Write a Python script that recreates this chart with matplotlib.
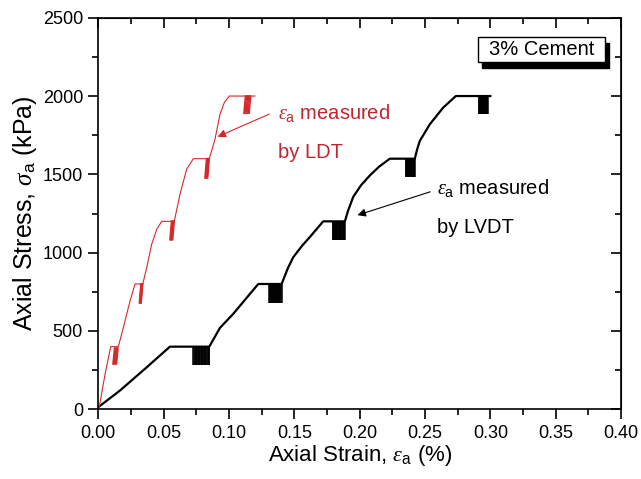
import numpy as np
import matplotlib
matplotlib.use("Agg")
import matplotlib.pyplot as plt
from matplotlib.ticker import MultipleLocator
from matplotlib.patches import Rectangle

plt.rcParams['font.family'] = ['Liberation Sans', 'DejaVu Sans']
plt.rcParams['mathtext.fontset'] = 'custom'
plt.rcParams['mathtext.rm'] = 'Liberation Sans'
plt.rcParams['mathtext.it'] = 'Liberation Serif:italic'

# LDT curve (strain %, stress kPa)
ldt_strain = [0.0, 0.0008, 0.0051, 0.0095, 0.0153, 0.0191, 0.0242, 0.0281,
              0.0340, 0.0370, 0.0408, 0.0447, 0.0485, 0.0581, 0.0625, 0.0676,
              0.0727, 0.0849, 0.0893, 0.0931, 0.0965, 0.1002, 0.1198]
ldt_stress = [10, 19, 222, 400, 400, 520, 690, 800,
              800, 903, 1053, 1149, 1200, 1200, 1373, 1533,
              1600, 1600, 1724, 1884, 1960, 2000, 2000]

# LVDT curve
lvdt_strain = [0.0, 0.0008, 0.0166, 0.0370, 0.0548, 0.0849, 0.0931, 0.1033,
               0.1224, 0.1403, 0.1450, 0.1491, 0.1560, 0.1619, 0.1721,
               0.1887, 0.1910, 0.1950, 0.2010, 0.2078, 0.2150, 0.2231,
               0.2422, 0.2440, 0.2460, 0.2537, 0.2639, 0.2736, 0.3000]
lvdt_stress = [15, 19, 120, 268, 400, 400, 520, 610,
               800, 800, 900, 970, 1045, 1100, 1200,
               1200, 1265, 1355, 1430, 1493, 1550, 1600,
               1600, 1660, 1713, 1820, 1926, 2000, 2000]

# unload-reload cycles: (strain start, strain end, stress low, stress high)
ldt_cycles = [(0.0112, 0.0151, 290, 390), (0.0314, 0.0340, 680, 800),
              (0.0548, 0.0581, 1083, 1200), (0.0816, 0.0849, 1478, 1600),
              (0.1114, 0.1166, 1890, 2000)]
lvdt_cycles = [(0.0727, 0.0849, 280, 400), (0.1306, 0.1403, 680, 800),
               (0.1795, 0.1887, 1078, 1200), (0.2353, 0.2422, 1480, 1600),
               (0.2912, 0.2980, 1886, 2000)]

red = '#d42a2a'
red_txt = '#c0262d'

fig = plt.figure(figsize=(6.41, 4.79), dpi=100)
ax = fig.add_axes([0.1534, 0.1455, 0.8154, 0.8175])

ax.plot(lvdt_strain, lvdt_stress, '-', color='black', lw=1.6)
for x0, x1, lo, hi in lvdt_cycles:
    ax.vlines(np.linspace(x0, x1, 22), lo, hi, color='black', lw=1.1)

ax.plot(ldt_strain, ldt_stress, '-', color=red, lw=0.8)
for x0, x1, lo, hi in ldt_cycles:
    for x in np.linspace(x0, x1 - 0.0012, 6):
        ax.plot([x + 0.0012, x], [hi, lo], '-', color=red, lw=1.1)

ax.set_xlim(0, 0.40)
ax.set_ylim(0, 2500)
ax.xaxis.set_major_locator(MultipleLocator(0.05))
ax.xaxis.set_minor_locator(MultipleLocator(0.025))
ax.yaxis.set_major_locator(MultipleLocator(500))
ax.yaxis.set_minor_locator(MultipleLocator(250))
ax.xaxis.set_major_formatter(matplotlib.ticker.FormatStrFormatter('%.2f'))
ax.tick_params(which='both', direction='out', top=False, right=False,
               labelsize=13, width=1.2)
ax.tick_params(which='major', length=7, pad=4)
ax.tick_params(which='minor', length=4.5)
# inward ticks on the top and right spines
ax2 = ax.secondary_xaxis('top')
ax2.xaxis.set_major_locator(MultipleLocator(0.05))
ax2.xaxis.set_minor_locator(MultipleLocator(0.025))
ax2.tick_params(which='both', direction='in', labeltop=False, width=1.2)
ax2.tick_params(which='major', length=7)
ax2.tick_params(which='minor', length=4.5)
ay2 = ax.secondary_yaxis('right')
ay2.yaxis.set_major_locator(MultipleLocator(500))
ay2.yaxis.set_minor_locator(MultipleLocator(250))
ay2.tick_params(which='both', direction='in', labelright=False, width=1.2)
ay2.tick_params(which='major', length=7)
ay2.tick_params(which='minor', length=4.5)
for s in ax.spines.values():
    s.set_linewidth(1.2)

ax.set_xlabel(r'Axial Strain, $\varepsilon_{\rm a}$ (%)', fontsize=16, labelpad=1)
ax.set_ylabel(r'Axial Stress, $\sigma_{\rm a}$ (kPa)', fontsize=18, labelpad=3)

# annotations
ax.text(0.1375, 1892, r'$\varepsilon_{\rm a}$ measured', color=red_txt,
        fontsize=14.5, va='center', ha='left')
ax.text(0.1375, 1637, 'by LDT', color=red_txt, fontsize=14.5, va='center', ha='left')
ax.annotate('', xy=(0.0893, 1733), xytext=(0.1328, 1892),
            arrowprops=dict(arrowstyle='-|>', color=red, lw=0.8,
                            mutation_scale=12))
ax.text(0.2590, 1413, r'$\varepsilon_{\rm a}$ measured', color='black',
        fontsize=14.5, va='center', ha='left')
ax.text(0.2590, 1158, 'by LVDT', color='black', fontsize=14.5, va='center', ha='left')
ax.annotate('', xy=(0.1963, 1234), xytext=(0.2560, 1394),
            arrowprops=dict(arrowstyle='-|>', color='black', lw=0.8,
                            mutation_scale=12))

# label box with shadow
ax.add_patch(Rectangle((0.734, 0.872), 0.243, 0.064, transform=ax.transAxes,
                       facecolor='black', edgecolor='black', zorder=5))
ax.add_patch(Rectangle((0.726, 0.888), 0.243, 0.064, transform=ax.transAxes,
                       facecolor='white', edgecolor='black', lw=1.0, zorder=6))
ax.text(0.8475, 0.920, '3% Cement', transform=ax.transAxes, fontsize=14.5,
        ha='center', va='center', zorder=7)

fig.savefig('out.png', dpi=100)
